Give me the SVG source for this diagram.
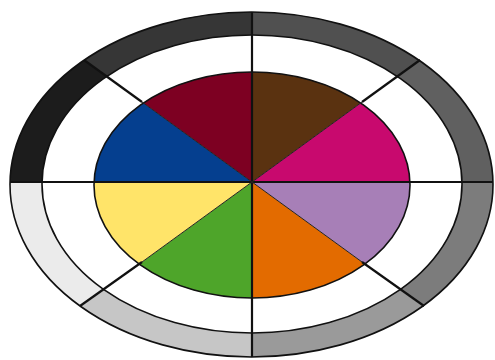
<svg xmlns="http://www.w3.org/2000/svg" width="495" height="360" viewBox="0 0 495 360">
<style>
.edge{fill:none;stroke:#111;stroke-width:1.6}
.ln{stroke:#111;stroke-width:2.2;fill:none}
.thin{stroke:#222;stroke-width:1;fill:none}
</style>
<defs>
<clipPath id="outerClip"><ellipse cx="251.5" cy="184.5" rx="241.5" ry="172.5"/></clipPath>
<clipPath id="colorClip"><ellipse cx="252" cy="185" rx="158" ry="113"/></clipPath>
</defs>
<rect width="495" height="360" fill="#fff"/>
<g id="ring" clip-path="url(#outerClip)">
<polygon points="252,182 -300,182 -298,-218" fill="#1c1c1c"/>
<polygon points="252,182 -298,-218 252,-300" fill="#363636"/>
<polygon points="252,182 252,-300 802,-218" fill="#505050"/>
<polygon points="252,182 802,-218 800,182" fill="#606060"/>
<polygon points="252,182 800,182 802,582" fill="#7c7c7c"/>
<polygon points="252,182 802,582 252,800" fill="#9a9a9a"/>
<polygon points="252,182 252,800 -298,582" fill="#c6c6c6"/>
<polygon points="252,182 -298,582 -300,182" fill="#ebebeb"/>
</g>
<g id="ring-edges">
<ellipse class="edge" cx="251.5" cy="184.5" rx="241.5" ry="172.5"/>
<ellipse cx="252" cy="184" rx="210" ry="149" fill="#fff" stroke="#111" stroke-width="1.6"/>
</g>
<g id="wheel" clip-path="url(#colorClip)">
<polygon points="252,182 -300,182 -298,-218" fill="#053f8f"/>
<polygon points="252,182 -298,-218 252,-300" fill="#7d0022"/>
<polygon points="252,182 252,-300 802,-218" fill="#5a3210"/>
<polygon points="252,182 802,-218 800,182" fill="#c8096e"/>
<polygon points="252,182 800,182 802,582" fill="#a77fb7"/>
<polygon points="252,182 802,582 252,800" fill="#e36b00"/>
<polygon points="252,182 252,800 -298,582" fill="#4ea52a"/>
<polygon points="252,182 -298,582 -300,182" fill="#ffe469"/>
</g>
<g id="wheel-edge">
<ellipse class="edge" cx="252" cy="185" rx="158" ry="113" stroke-width="1.2"/>
</g>
<g id="connectors">
<line class="ln" x1="10" y1="182" x2="493" y2="182"/>
<line class="ln" x1="252" y1="12" x2="252" y2="357"/>
<line class="thin" x1="252" y1="182" x2="142" y2="102"/>
<line class="thin" x1="252" y1="182" x2="362" y2="102"/>
<line class="thin" x1="252" y1="182" x2="142" y2="262"/>
<line class="thin" x1="252" y1="182" x2="362" y2="262"/>
<line class="ln" x1="142" y1="102" x2="84" y2="60"/>
<line class="ln" x1="362" y1="102" x2="420" y2="60"/>
<line class="ln" x1="142" y1="262" x2="80" y2="306"/>
<line class="ln" x1="362" y1="262" x2="424" y2="306"/>
</g>
</svg>
